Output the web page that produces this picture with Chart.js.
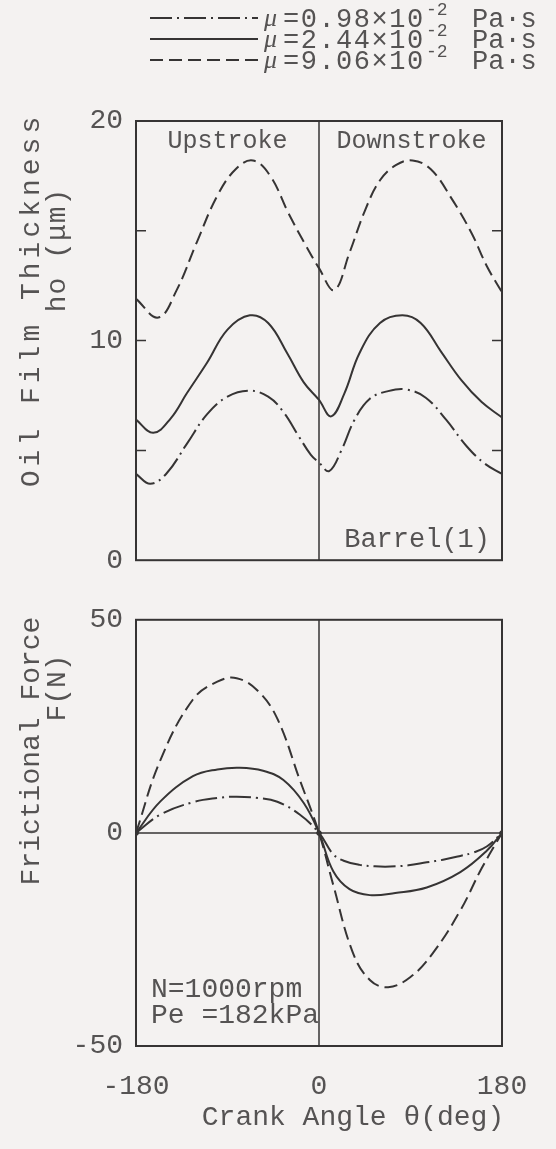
<!DOCTYPE html>
<html>
<head>
<meta charset="utf-8">
<script src="https://cdn.jsdelivr.net/npm/chart.js@4.4.1/dist/chart.umd.min.js"></script>
<style>
  body { margin: 0; background: #f4f2f1; }
  #page { position: relative; width: 556px; height: 1149px; overflow: hidden; }
  .panel { position: absolute; left: 0; width: 556px; }
</style>
</head>
<body>
<div id="page">
  <div class="panel" style="top:0;height:590px"><canvas id="filmChart" width="556" height="590"></canvas></div>
  <div class="panel" style="top:590px;height:559px"><canvas id="forceChart" width="556" height="559"></canvas></div>
</div>
<script>
// viscosity of each curve, x10^-2 Pa.s (dash-dot, solid, dashed)
const viscosities = ['0.98', '2.44', '9.06'];

// oil film thickness ho (um) against crank angle (deg)
const filmAngles098 = [-180, -166, -150, -130, -110, -90, -69, -50, -35, -20, -8, 0, 10, 22, 35, 50, 68, 86, 105, 125, 145, 163, 180];
const filmValues098 = [3.93, 3.48, 3.95, 5.3, 6.65, 7.45, 7.72, 7.45, 6.75, 5.65, 4.8, 4.45, 4.06, 5.0, 6.4, 7.35, 7.7, 7.77, 7.4, 6.4, 5.2, 4.4, 3.93];

const filmAngles244 = [-180, -163, -146, -130, -110, -90, -68, -50, -31, -15, 0, 12, 25, 40, 60, 82, 100, 120, 140, 160, 180];
const filmValues244 = [6.4, 5.8, 6.45, 7.6, 9.0, 10.5, 11.15, 10.8, 9.4, 8.1, 7.3, 6.55, 7.6, 9.45, 10.8, 11.15, 10.8, 9.5, 8.2, 7.2, 6.5];

const filmAngles906 = [-180, -158, -140, -120, -100, -82, -65, -48, -30, -15, 0, 15, 30, 45, 60, 76, 92, 110, 130, 150, 165, 180];
const filmValues906 = [11.9, 11.05, 12.3, 14.5, 16.6, 17.8, 18.2, 17.5, 15.8, 14.5, 13.3, 12.3, 14.0, 15.9, 17.3, 18.0, 18.2, 17.8, 16.5, 14.9, 13.4, 12.2];

// frictional force F (N) against crank angle (deg)
const forceAngles098 = [-180, -156, -124, -100, -81, -60, -41, -19, 0, 14, 25, 40, 55, 70, 88, 106, 122, 139, 152, 165, 180];
const forceValues098 = [0, 4.3, 7.2, 8.2, 8.5, 8.2, 7.3, 4.3, 0, -5.0, -6.6, -7.5, -7.85, -7.9, -7.6, -6.9, -6.3, -5.4, -4.6, -3.2, 0];

const forceAngles244 = [-180, -156, -124, -100, -78, -55, -35, -15, 0, 14, 30, 50, 75, 106, 139, 165, 180];
const forceValues244 = [0, 7.4, 13.3, 14.9, 15.3, 14.6, 12.4, 7.0, 0, -9.0, -13.2, -14.6, -14.1, -12.8, -9.2, -4.2, 0];

const forceAngles906 = [-180, -156, -124, -100, -81, -60, -41, -19, 0, 14, 33, 50, 68, 90, 112, 139, 160, 180];
const forceValues906 = [0, 17.1, 31.3, 35.5, 36.3, 33.3, 26.8, 12.5, 0, -12.2, -27.9, -34.5, -36.2, -33.8, -28.2, -18.2, -8.3, 0];

// axis ticks
const angleTicks = [-180, 0, 180];
const filmTicks = [0, 10, 20];
const filmMarks = [5, 10, 15];
const forceTicks = [-50, 0, 50];

const INK = '#363434';
const TEXT = '#555353';
const FONT = "'Liberation Mono', 'DejaVu Sans Mono', monospace";
const SERIF = "'Liberation Serif', 'DejaVu Serif', serif";
const lineDashes = [[22, 5, 2, 5], [], [13, 6]];

function series(xs, ys, k, dots) {
    return {
        label: viscosities[k],
        data: xs.map((x, i) => ({ x: x, y: ys[i] })),
        borderColor: INK,
        backgroundColor: INK,
        borderWidth: 2,
        borderDash: lineDashes[k],
        // the force curves meet in a dot where they cross zero at the dead centres
        pointRadius: c => (dots && c.raw && c.raw.y === 0 ? 2.5 : 0),
        pointBorderWidth: 0,
        tension: 0.4,
        fill: false
    };
}

function text(ctx, str, x, y, size, align, spacing, family, style) {
    ctx.font = (style ? style + ' ' : '') + size + 'px ' + (family || FONT);
    ctx.fillStyle = TEXT;
    ctx.textAlign = align || 'center';
    ctx.textBaseline = 'middle';
    ctx.letterSpacing = (spacing || 0) + 'px';
    ctx.fillText(str, x, y);
    ctx.letterSpacing = '0px';
}

function vtext(ctx, str, x, y, size, spacing) {
    ctx.save();
    ctx.translate(x, y);
    ctx.rotate(-Math.PI / 2);
    text(ctx, str, 0, 0, size, 'center', spacing);
    ctx.restore();
}

// box, centre lines, inward tick marks and labels drawn on top of the curves
const framePlugin = {
    id: 'frame',
    afterDatasetsDraw(chart, args, opts) {
        const { ctx, chartArea: a, scales } = chart;
        ctx.save();
        ctx.strokeStyle = INK;
        ctx.lineWidth = 2;
        ctx.setLineDash([]);
        ctx.strokeRect(a.left, a.top, a.right - a.left, a.bottom - a.top);
        ctx.lineWidth = 1.5;
        const x0 = scales.x.getPixelForValue(0);
        ctx.beginPath();
        ctx.moveTo(x0, a.top);
        ctx.lineTo(x0, a.bottom);
        if (opts.zeroLine) {
            const y0 = scales.y.getPixelForValue(0);
            ctx.moveTo(a.left, y0);
            ctx.lineTo(a.right, y0);
        }
        (opts.marks || []).forEach(v => {
            const y = scales.y.getPixelForValue(v);
            ctx.moveTo(a.left, y);
            ctx.lineTo(a.left + 10, y);
            ctx.moveTo(a.right, y);
            ctx.lineTo(a.right - 10, y);
        });
        ctx.stroke();
        ctx.restore();
        if (opts.draw) opts.draw(chart);
    }
};

function commonOptions(yTicks, yMin, yMax, padding, showX) {
    return {
        responsive: false,
        animation: false,
        layout: { padding: padding },
        plugins: { legend: { display: false }, tooltip: { enabled: false } },
        scales: {
            x: {
                type: 'linear',
                min: -180,
                max: 180,
                display: showX,
                afterBuildTicks: s => { s.ticks = angleTicks.map(v => ({ value: v })); },
                afterFit: s => { s.height = showX ? 103 : 0; },
                grid: { display: false, drawTicks: false },
                border: { display: false },
                ticks: { color: TEXT, font: { family: FONT, size: 28 }, padding: 24, maxRotation: 0, autoSkip: false }
            },
            y: {
                min: yMin,
                max: yMax,
                afterBuildTicks: s => { s.ticks = yTicks.map(v => ({ value: v })); },
                afterFit: s => { s.width = 136; },
                grid: { display: false, drawTicks: false },
                border: { display: false },
                ticks: { color: TEXT, font: { family: FONT, size: 28 }, padding: 13 }
            }
        }
    };
}

const filmOptions = commonOptions(filmTicks, 0, 20, { top: 121, right: 54, bottom: 26, left: 0 }, false);
filmOptions.plugins.frame = {
    marks: filmMarks,
    draw(chart) {
        const ctx = chart.ctx;
        const a = chart.chartArea;
        const x0 = chart.scales.x.getPixelForValue(0);
        // legend
        chart.data.datasets.forEach((ds, i) => {
            const y = 18 + i * 21;
            ctx.save();
            ctx.strokeStyle = INK;
            ctx.lineWidth = 2;
            ctx.setLineDash(ds.borderDash);
            ctx.beginPath();
            ctx.moveTo(150, y);
            ctx.lineTo(258, y);
            ctx.stroke();
            ctx.restore();
            text(ctx, '\u03bc', 264, y + 1, 26, 'left', 0, SERIF, 'italic');
            text(ctx, '=' + ds.label + '\u00d710', 283, y + 2, 27, 'left', 1.5);
            text(ctx, '-2', 426, y - 8, 18, 'left');
            text(ctx, 'Pa\u00b7s', 472, y + 2, 27, 'left');
        });
        text(ctx, 'Upstroke', (a.left + x0) / 2, 141, 25);
        text(ctx, 'Downstroke', (a.right + x0) / 2 + 1, 141, 25);
        text(ctx, 'Barrel(1)', 490, 540, 27, 'right');
        vtext(ctx, 'Oil Film Thickness', 32, 300, 28, 4);
        vtext(ctx, 'ho (\u03bcm)', 58, 250, 28, 1);
    }
};

new Chart(document.getElementById('filmChart'), {
    type: 'line',
    data: {
        datasets: [
            series(filmAngles098, filmValues098, 0, false),
            series(filmAngles244, filmValues244, 1, false),
            series(filmAngles906, filmValues906, 2, false)
        ]
    },
    options: filmOptions,
    plugins: [framePlugin]
});

const forceOptions = commonOptions(forceTicks, -50, 50, { top: 14, right: 54, bottom: 0, left: 0 }, true);
forceOptions.plugins.frame = {
    zeroLine: true,
    draw(chart) {
        const ctx = chart.ctx;
        text(ctx, 'N=1000rpm', 151, 400, 28, 'left');
        text(ctx, 'Pe =182kPa', 151, 426, 28, 'left');
        text(ctx, 'Crank Angle \u03b8(deg)', 353, 528, 28);
        vtext(ctx, 'Frictional Force', 32, 161, 28, 0);
        vtext(ctx, 'F(N)', 58, 98, 28, 0);
    }
};

new Chart(document.getElementById('forceChart'), {
    type: 'line',
    data: {
        datasets: [
            series(forceAngles098, forceValues098, 0, true),
            series(forceAngles244, forceValues244, 1, true),
            series(forceAngles906, forceValues906, 2, true)
        ]
    },
    options: forceOptions,
    plugins: [framePlugin]
});
</script>
</body>
</html>
